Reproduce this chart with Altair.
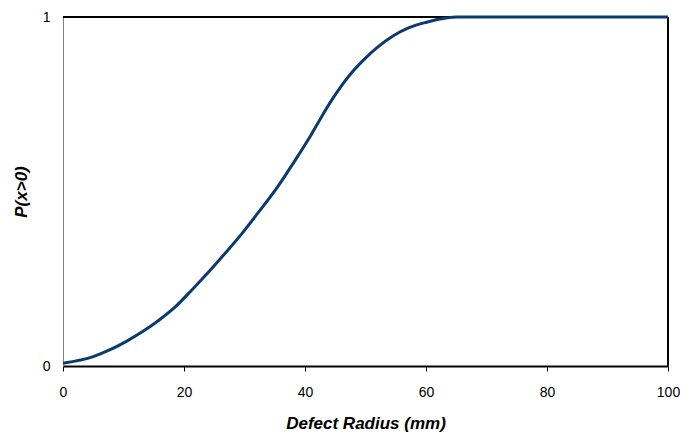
import altair as alt
import pandas as pd

radius = [0, 5.0, 7.7, 10.4, 13.1, 15.9, 18.6, 21.3, 24.1, 26.8, 29.5, 32.2, 35.5,
          38.2, 41.0, 42.6, 44.2, 45.9, 47.5, 49.7, 51.9, 54.6, 57.3, 60.1, 63.3, 65, 100]
prob = [0.008, 0.027, 0.046, 0.070, 0.098, 0.132, 0.170, 0.218, 0.270, 0.323, 0.378,
        0.438, 0.514, 0.585, 0.662, 0.710, 0.756, 0.800, 0.836, 0.877, 0.912, 0.946,
        0.970, 0.985, 0.997, 1.0, 1.0]

df = pd.DataFrame({"r": radius, "p": prob})

W, H = 605, 349
FONT = "Liberation Sans"

line = alt.Chart(df).mark_line(color="#0b3a6e", strokeWidth=3, interpolate="monotone").encode(
    x=alt.X("r:Q", scale=alt.Scale(domain=[0, 100], nice=False),
            axis=alt.Axis(values=[0, 20, 40, 60, 80, 100], title="Defect Radius (mm)",
                          format="d", grid=False, domainColor="black", domainWidth=2,
                          tickColor="black", tickSize=5, tickWidth=1,
                          labelFont=FONT, labelFontSize=14, labelColor="black",
                          labelPadding=14, labelFlush=False,
                          titleFont=FONT, titleFontSize=17, titleFontWeight="bold",
                          titleFontStyle="italic", titleColor="black", titlePadding=16)),
    y=alt.Y("p:Q", scale=alt.Scale(domain=[0, 1], nice=False),
            axis=alt.Axis(values=[0, 1], title="P(x>0)", format="d", grid=False,
                          domainColor="#808080", domainWidth=1, ticks=False,
                          labelFont=FONT, labelFontSize=14, labelColor="black",
                          labelPadding=13, labelFlush=False,
                          titleFont=FONT, titleFontSize=17, titleFontWeight="bold",
                          titleFontStyle="italic", titleColor="black", titlePadding=12)),
)

top = alt.Chart(df).mark_rule(color="black", strokeWidth=1).encode(
    x=alt.value(0), x2=alt.value(W), y=alt.value(0))
right = alt.Chart(df).mark_rule(color="black", strokeWidth=1).encode(
    x=alt.value(W), y=alt.value(0), y2=alt.value(H))

chart = alt.layer(top, right, line).properties(
    width=W, height=H,
    autosize=alt.AutoSizeParams(type="none"),
    padding={"left": 55, "top": 9, "right": 12, "bottom": 70},
).configure_view(stroke=None)

chart.save("out.html", embed_options={"renderer": "svg", "actions": False})
